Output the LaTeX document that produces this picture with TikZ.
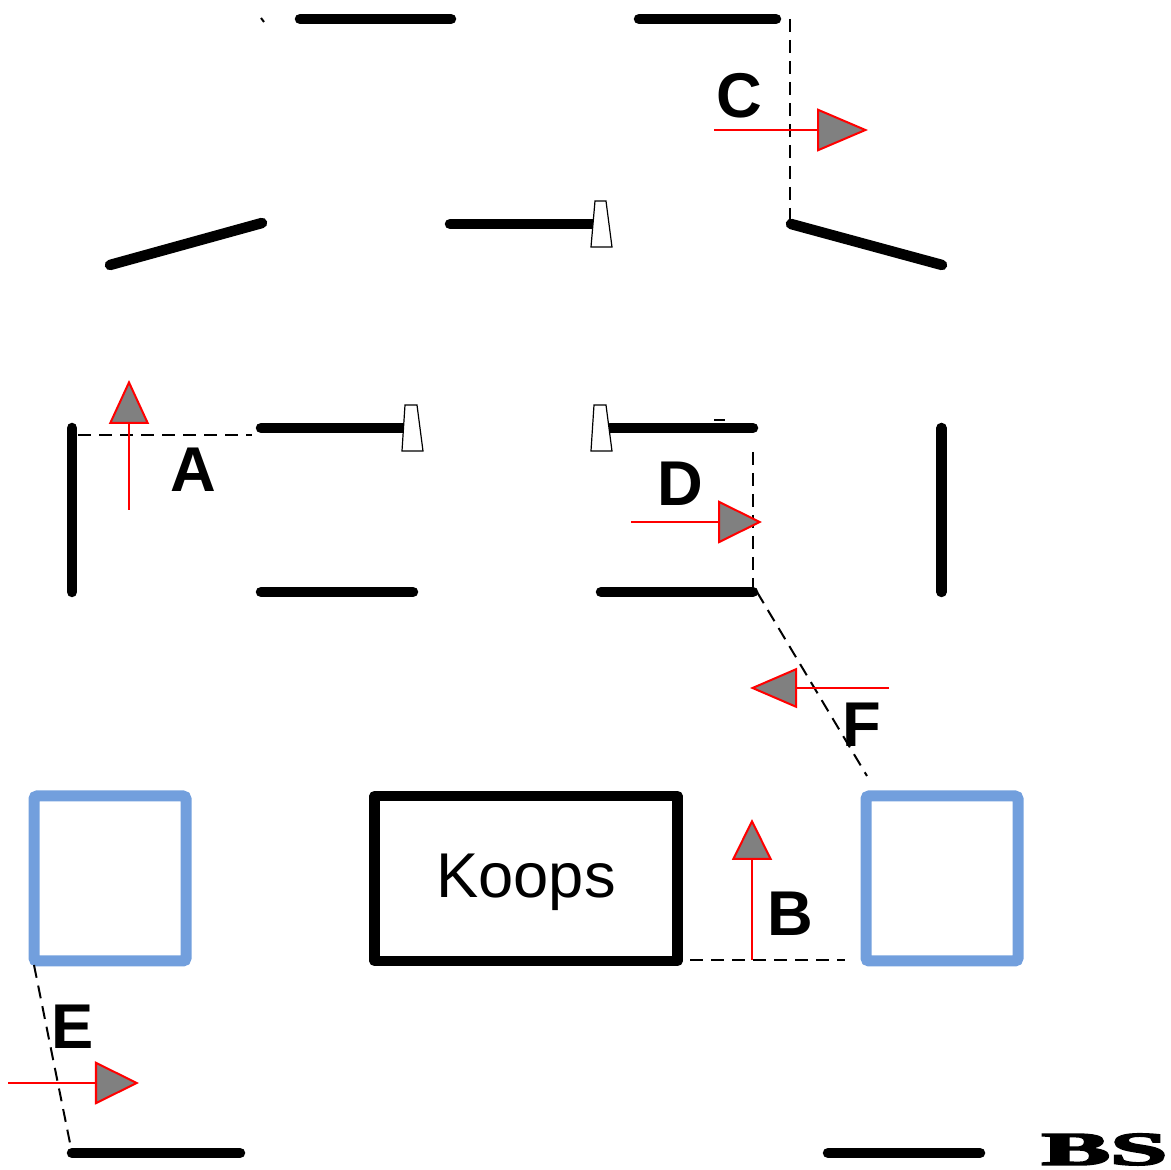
\documentclass[tikz,border=0pt]{standalone}
\usepackage{fontspec}
\setmainfont{Liberation Sans}
\newfontfamily\bsfont[BoldFeatures={FakeBold=3.5}]{Liberation Serif}
\usetikzlibrary{arrows.meta}
\definecolor{boxblue}{RGB}{114,159,221}
\tikzset{
  wall/.style={line width=0.105cm,line cap=round},
  cutline/.style={dashed,dash pattern=on 0.13cm off 0.08cm,line width=0.02cm},
  dirarrow/.style 2 args={red,line width=0.02cm,-{Triangle[length=#1,width=#2,fill=gray]}},
  secletter/.style={font=\fontsize{18}{20}\selectfont\bfseries,inner sep=0pt},
  door/.style={draw,fill=white,line width=0.012cm},
  bluebox/.style={draw=boxblue,line width=0.11cm,rounded corners=0.03cm,minimum width=1.52cm,minimum height=1.65cm}
}
\begin{document}
\begin{tikzpicture}
\useasboundingbox (0,0) rectangle (11.71,-11.70);
\draw[wall] (3.00,-0.19) -- (4.51,-0.19);
\draw[wall] (6.39,-0.19) -- (7.76,-0.19);
\draw[wall] (1.10,-2.65) -- (2.62,-2.23);
\draw[wall] (4.50,-2.24) -- (5.96,-2.24);
\draw[wall] (7.91,-2.24) -- (9.42,-2.65);
\draw[wall] (0.72,-4.28) -- (0.72,-5.92);
\draw[wall] (2.61,-4.28) -- (4.05,-4.28);
\draw[wall] (6.10,-4.28) -- (7.53,-4.28);
\draw[wall] (2.61,-5.92) -- (4.13,-5.92);
\draw[wall] (6.01,-5.92) -- (7.53,-5.92);
\draw[wall] (9.415,-4.28) -- (9.415,-5.92);
\draw[wall] (0.72,-11.53) -- (2.40,-11.53);
\draw[wall] (8.28,-11.53) -- (9.80,-11.53);
\draw[door] (5.95,-2.01) -- (6.06,-2.01) -- (6.12,-2.47) -- (5.91,-2.47) -- cycle;
\draw[door] (4.05,-4.05) -- (4.17,-4.05) -- (4.23,-4.51) -- (4.02,-4.51) -- cycle;
\draw[door] (5.94,-4.05) -- (6.06,-4.05) -- (6.12,-4.51) -- (5.91,-4.51) -- cycle;
\node[draw,line width=0.105cm,line join=round,minimum width=3.03cm,minimum height=1.65cm,text height=0.45cm,text depth=0.06cm,font=\fontsize{18}{20}\selectfont] (koops) at (5.26,-8.785) {Koops};
\node[bluebox] (boxleft) at (1.10,-8.785) {};
\node[bluebox] (boxright) at (9.42,-8.785) {};
\draw[cutline] (2.61,-0.18) -- (2.64,-0.22);
\draw[cutline] (7.14,-4.20) -- (7.25,-4.20);
\draw[cutline] (7.90,-0.19) -- (7.90,-2.20);
\draw[cutline] (0.78,-4.35) -- (2.52,-4.35);
\draw[cutline] (7.53,-4.52) -- (7.53,-5.90);
\draw[cutline] (7.57,-5.92) -- (8.67,-7.76);
\draw[cutline] (6.90,-9.60) -- (8.45,-9.60);
\draw[cutline] (0.34,-9.65) -- (0.71,-11.48);
\draw[dirarrow={0.44cm}{0.40cm}] (1.29,-5.10) -- (1.29,-3.80);
\draw[dirarrow={0.41cm}{0.40cm}] (7.52,-9.60) -- (7.52,-8.19);
\draw[dirarrow={0.51cm}{0.43cm}] (7.14,-1.30) -- (8.68,-1.30);
\draw[dirarrow={0.44cm}{0.43cm}] (6.31,-5.22) -- (7.62,-5.22);
\draw[dirarrow={0.44cm}{0.43cm}] (0.08,-10.83) -- (1.39,-10.83);
\draw[dirarrow={0.47cm}{0.40cm}] (8.89,-6.88) -- (7.50,-6.88);
\node[secletter] (letterA) at (1.935,-4.70) {A};
\node[secletter] (letterB) at (7.905,-9.14) {B};
\node[secletter] (letterC) at (7.395,-0.96) {C};
\node[secletter] (letterD) at (6.80,-4.84) {D};
\node[secletter] (letterE) at (0.725,-10.27) {E};
\node[secletter] (letterF) at (8.62,-7.25) {F};
\node[xscale=2.2,transform shape,inner sep=0pt,font=\fontsize{13.3}{15}\selectfont\bsfont\bfseries] (mark) at (11.045,-11.495) {BS};
\end{tikzpicture}
\end{document}
